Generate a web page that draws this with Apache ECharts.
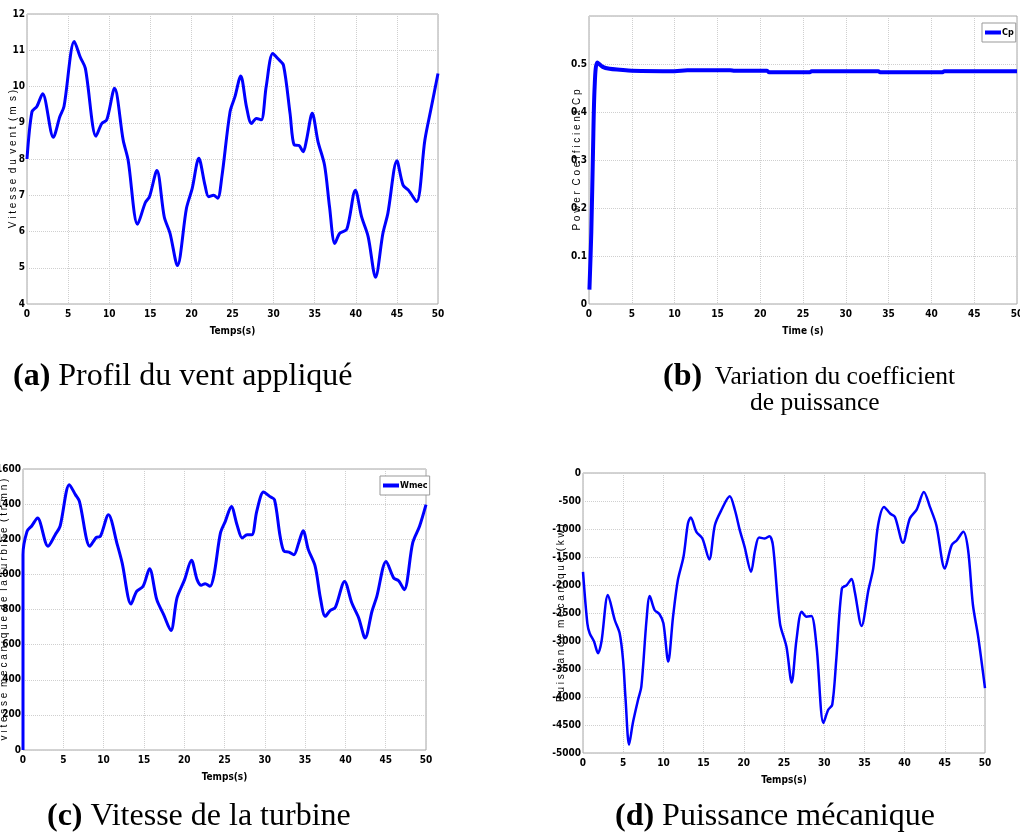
<!DOCTYPE html>
<html>
<head>
<meta charset="utf-8">
<script src="https://cdn.jsdelivr.net/npm/echarts@6/dist/echarts.min.js"></script>
<style>
  html, body { margin: 0; padding: 0; background: #fff; }
  #main { width: 1020px; height: 836px; }
</style>
</head>
<body>
<div id="main"></div>
<script>
// (a) profil du vent : temps (s) / vitesse (m/s)
var tA = [0, 0.6, 1.2, 1.9, 3.2, 4.0, 4.5, 5.75, 6.5, 7.1, 8.4, 9.1, 9.7, 10.65, 11.7, 12.3, 13.45, 14.4, 14.9, 15.8,
  16.7, 17.4, 18.3, 19.4, 20.1, 20.9, 21.65, 22.1, 22.7, 23.2, 23.7, 24.7, 25.3, 26.0, 26.7, 27.3, 27.9, 28.5, 29.1, 29.9,
  30.6, 31.2, 32.0, 32.5, 33.1, 33.6, 34.0, 34.7, 35.4, 36.2, 36.8, 37.45, 38.05, 38.9, 39.95, 40.7, 41.5, 42.4, 43.3, 43.9,
  45.0, 45.75, 46.4, 47.4, 48.4, 49.2, 50];
var vA = [8.0, 9.3, 9.45, 9.8, 8.6, 9.17, 9.45, 11.24, 10.8, 10.5, 8.63, 8.98, 9.08, 9.95, 8.52, 7.97, 6.2, 6.8, 6.96, 7.68,
  6.4, 5.95, 5.06, 6.64, 7.19, 8.02, 7.28, 6.96, 7.0, 6.92, 7.5, 9.3, 9.72, 10.29, 9.44, 8.98, 9.12, 9.08, 10.0, 10.91,
  10.75, 10.59, 9.26, 8.39, 8.37, 8.2, 8.52, 9.26, 8.48, 7.83, 6.69, 5.67, 5.95, 6.06, 7.14, 6.41, 5.86, 4.74, 5.95, 6.5,
  7.95, 7.28, 7.14, 6.82, 8.52, 9.44, 10.36];

// (b) coefficient de puissance Cp
var tB = [0.05, 0.27, 0.47, 0.66, 0.97, 1.6, 2.4, 3.6, 5, 10, 11.5, 16.5, 17, 20.8, 21, 25.8, 26, 33.8, 34, 41.3, 41.5, 50];
var cpB = [0.03, 0.15, 0.32, 0.453, 0.503, 0.494, 0.49, 0.488, 0.486, 0.485, 0.487, 0.487, 0.486, 0.486, 0.483, 0.483,
  0.485, 0.485, 0.483, 0.483, 0.485, 0.485];

// (c) vitesse mecanique de la turbine (tr/mn)
var tC = [0, 0, 0.5, 1.1, 1.8, 3.1, 4.0, 4.6, 5.75, 6.5, 7.0, 8.3, 9.1, 9.6, 10.6, 11.7, 12.3, 13.4, 14.1, 14.9,
  15.7, 16.6, 17.45, 18.35, 19.1, 20.05, 20.9, 21.6, 22.1, 22.6, 23.2, 23.7, 24.5, 25.1, 25.85, 26.55, 27.2, 27.8, 28.4, 29.0,
  29.85, 30.6, 31.2, 31.9, 32.4, 33.0, 33.6, 34.2, 34.75, 35.4, 36.25, 36.9, 37.5, 38.1, 38.75, 39.9, 40.8, 41.65, 42.45, 43.3,
  43.9, 45.05, 46.0, 46.6, 47.3, 48.35, 49.2, 50];
var wC = [0, 1112, 1245, 1277, 1321, 1160, 1226, 1274, 1511, 1454, 1416, 1160, 1211, 1217, 1340, 1169, 1065, 831, 903, 932,
  1032, 856, 771, 680, 865, 970, 1080, 970, 938, 947, 932, 998, 1236, 1302, 1387, 1283, 1207, 1226, 1226, 1359,
  1469, 1444, 1425, 1217, 1131, 1127, 1112, 1179, 1249, 1141, 1046, 865, 761, 793, 812, 960, 837, 752, 638, 790,
  875, 1074, 979, 964, 913, 1179, 1274, 1397];

// (d) puissance mecanique (kw)
var tD = [0, 0.54, 0.83, 1.37, 1.87, 2.3, 3.1, 3.95, 4.56, 4.98, 5.3, 5.73, 6.2, 6.85, 7.26, 7.9, 8.3, 8.9, 9.5, 10.0,
  10.6, 11.2, 11.8, 12.5, 13.05, 13.4, 14.1, 14.85, 15.7, 16.4, 17.2, 18.25, 18.9, 19.5, 20.1, 20.9, 21.4, 21.9, 22.6, 23.2,
  23.65, 24.5, 25.3, 25.95, 26.55, 27.2, 27.8, 28.4, 29.05, 29.9, 30.5, 31.0, 31.5, 32.2, 32.8, 33.4, 33.8, 34.65, 35.5, 36.1,
  36.7, 37.45, 38.2, 38.8, 39.8, 40.65, 41.5, 42.4, 43.15, 43.95, 45.0, 45.85, 46.5, 47.3, 47.9, 48.5, 49.15, 50];
var pD = [-1764, -2684, -2862, -3010, -3218, -3010, -2179, -2625, -2862, -3337, -4050, -4851, -4465, -4050, -3812, -2625, -2197, -2446, -2518, -2684,
  -3367, -2565, -1912, -1496, -903, -796, -1051, -1170, -1544, -932, -665, -416, -665, -1021, -1318, -1764, -1378, -1152, -1170, -1128,
  -1318, -2684, -3100, -3741, -2981, -2476, -2565, -2553, -3100, -4465, -4228, -4139, -3337, -2060, -2001, -1894, -2120, -2731, -2090, -1704,
  -932, -606, -724, -784, -1247, -813, -653, -338, -606, -932, -1704, -1289, -1200, -1051, -1378, -2357, -2921, -3842];

var xNames = ['Temps(s)', 'Time (s)', 'Temps(s)', 'Temps(s)'];
var yNames = [
  'V i t e s s e  d u  v e n t  ( m  s )',
  'P o w e r  C o e f f i c i e n t  C p',
  'v i t e s s e  m e c a n i q u e  d e  l a  t u r b i n e  ( t r  m n )',
  'P u i s s a n c e  m é c a n i q u e  ( k w )'
];

function pairs(t, v) {
  return t.map(function (x, i) { return [x, v[i]]; });
}

var narrow = "'Liberation Sans Narrow', 'DejaVu Sans Condensed', sans-serif";
var tickFont = { fontFamily: narrow, fontWeight: 'bold', fontSize: 10, color: '#000' };
var gridLine = { show: true, lineStyle: { color: '#cfcfcf', type: 'dotted', width: 1 } };

var grids = [
  { left: 27, top: 14, width: 411, height: 290 },
  { left: 589, top: 16, width: 428, height: 288 },
  { left: 23, top: 469, width: 403, height: 281 },
  { left: 583, top: 473, width: 402, height: 280 }
].map(function (g) {
  return Object.assign({
    show: true, borderColor: '#a6a6a6', borderWidth: 1, backgroundColor: '#fff',
    containLabel: false, outerBoundsMode: 'none'
  }, g);
});

var yRanges = [
  { min: 4, max: 12, interval: 1 },
  { min: 0, max: 0.6, interval: 0.1 },
  { min: 0, max: 1600, interval: 200 },
  { min: -5000, max: 0, interval: 500 }
];
var yGaps = [9, 7, 14, 17];

function plain(v) {
  return String(Math.round(v * 100) / 100);
}

var xAxes = xNames.map(function (n, i) {
  return {
    type: 'value', gridIndex: i, min: 0, max: 50, interval: 5,
    axisLine: { show: false }, axisTick: { show: false },
    splitLine: gridLine,
    axisLabel: Object.assign({ margin: 5, formatter: plain }, tickFont),
    name: n, nameLocation: 'middle', nameGap: 22, nameMoveOverlap: false,
    nameTextStyle: { fontFamily: narrow, fontWeight: 'bold', fontSize: 10, color: '#000' }
  };
});

var yAxes = yRanges.map(function (r, i) {
  return {
    type: 'value', gridIndex: i, min: r.min, max: r.max, interval: r.interval,
    axisLine: { show: false }, axisTick: { show: false },
    splitLine: gridLine,
    axisLabel: Object.assign({ margin: 2, showMaxLabel: i !== 1, formatter: plain }, tickFont),
    name: yNames[i], nameLocation: 'middle', nameGap: yGaps[i], nameMoveOverlap: false,
    nameTextStyle: { fontFamily: 'Liberation Sans, sans-serif', fontSize: 10, color: '#000' }
  };
});

function lineSeries(name, idx, data, width) {
  return {
    name: name, type: 'line', xAxisIndex: idx, yAxisIndex: idx,
    data: data, showSymbol: false, smooth: 0.3,
    lineStyle: { color: '#0000ff', width: width },
    itemStyle: { color: '#0000ff' }
  };
}

var legendBase = {
  orient: 'vertical', icon: 'rect', itemWidth: 16, itemHeight: 4, itemGap: 2,
  backgroundColor: '#fff', borderColor: '#999', borderWidth: 1, borderRadius: 0,
  padding: [5, 2, 5, 3],
  textStyle: { fontFamily: narrow, fontWeight: 'bold', fontSize: 9, color: '#000', padding: [0, 0, 0, -4] }
};

var serif = "'Liberation Serif', 'Times New Roman', serif";
var capRich = { b: { fontFamily: serif, fontWeight: 'bold', fontSize: 32, fill: '#000' } };

function caption(x, y, text, size) {
  return {
    type: 'text', x: x, y: y,
    style: {
      text: text, fontFamily: serif, fontSize: size || 32, fill: '#000',
      verticalAlign: 'middle', rich: capRich
    }
  };
}

var chart = echarts.init(document.getElementById('main'));
chart.setOption({
  animation: false,
  backgroundColor: '#fff',
  grid: grids,
  xAxis: xAxes,
  yAxis: yAxes,
  legend: [
    Object.assign({ data: ['Cp'], left: 982, top: 23 }, legendBase),
    Object.assign({ data: ['Wmec'], left: 380, top: 476 }, legendBase)
  ],
  series: [
    lineSeries('vent', 0, pairs(tA, vA), 3),
    lineSeries('Cp', 1, pairs(tB, cpB), 4),
    lineSeries('Wmec', 2, pairs(tC, wC), 3),
    lineSeries('Pmec', 3, pairs(tD, pD), 2.5)
  ],
  graphic: [
    caption(13, 377, '{b|(a)} Profil du vent appliqué'),
    caption(663, 377, '{b|(b)}  Variation du coefficient', 25.5),
    caption(750, 403, 'de puissance', 25.5),
    caption(47, 817, '{b|(c)} Vitesse de la turbine'),
    caption(615, 817, '{b|(d)} Puissance mécanique')
  ]
});
</script>
</body>
</html>
